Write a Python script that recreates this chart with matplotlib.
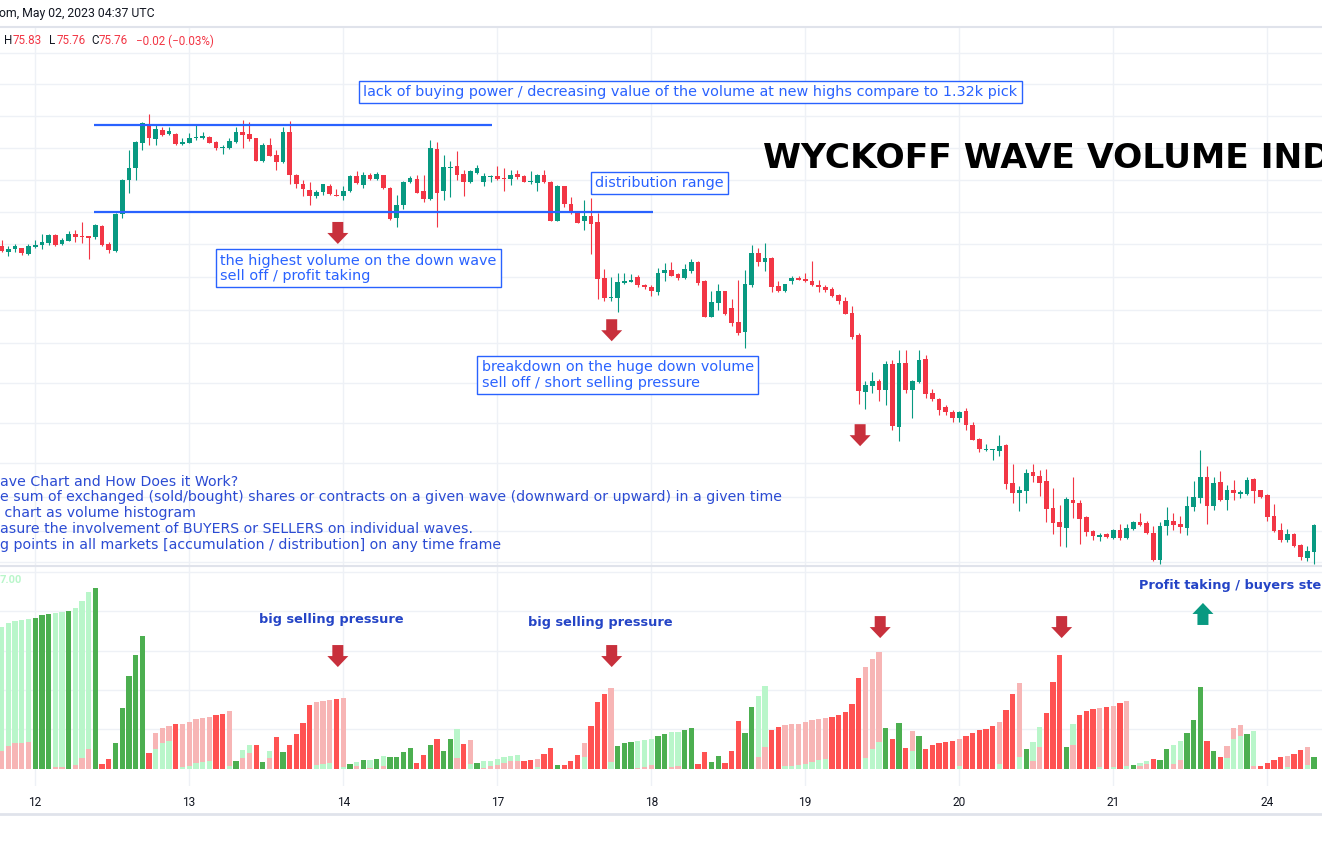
import numpy as np
import matplotlib
matplotlib.use("Agg")
import matplotlib.pyplot as plt
from matplotlib.patches import Polygon
from matplotlib.transforms import IdentityTransform

# hourly candles (bar 0 = first visible bar)
opens = [82.16, 82.07, 82.11, 82.12, 82.03, 82.14, 82.17, 82.21, 82.33, 82.18,
         82.24, 82.34, 82.32, 82.31, 82.29, 82.47, 82.19, 82.08, 82.66, 83.18,
         83.38, 83.77, 84.06, 83.83, 83.97, 83.91, 83.91, 83.75, 83.77, 83.84,
         83.85, 83.86, 83.78, 83.68, 83.68, 83.78, 83.94, 83.90, 83.84, 83.49,
         83.73, 83.58, 83.47, 83.93, 83.27, 83.13, 83.03, 82.94, 83.00, 83.09,
         82.96, 82.94, 83.01, 83.25, 83.11, 83.27, 83.20, 83.26, 83.07, 82.59,
         82.79, 83.15, 83.21, 83.02, 82.89, 83.67, 83.01, 83.38, 83.41, 83.28,
         83.16, 83.30, 83.16, 83.24, 83.25, 83.22, 83.20, 83.28, 83.25, 83.16,
         83.14, 83.27, 83.16, 82.55, 83.09, 82.81, 82.69, 82.55, 82.63, 82.53,
         81.65, 81.35, 81.35, 81.58, 81.60, 81.67, 81.54, 81.52, 81.44, 81.74,
         81.78, 81.72, 81.65, 81.77, 81.91, 81.61, 81.05, 81.27, 81.45, 81.18,
         80.97, 80.82, 81.54, 82.04, 81.90, 81.97, 81.53, 81.45, 81.61, 81.66,
         81.64, 81.61, 81.55, 81.52, 81.48, 81.39, 81.30, 81.11, 80.77, 79.88,
         79.97, 80.05, 79.91, 80.31, 79.33, 80.33, 79.91, 80.03, 80.39, 79.86,
         79.77, 79.64, 79.56, 79.47, 79.58, 79.36, 79.14, 78.97, 78.97, 78.95,
         79.05, 78.45, 78.30, 78.33, 78.63, 78.56, 78.48, 78.06, 77.84, 77.75,
         78.19, 78.14, 77.92, 77.70, 77.61, 77.66, 77.59, 77.72, 77.59, 77.73,
         77.84, 77.83, 77.67, 77.25, 77.78, 77.86, 77.81, 77.75, 78.08, 78.22,
         78.55, 78.09, 78.47, 78.19, 78.34, 78.28, 78.28, 78.52, 78.34, 78.27,
         77.94, 77.72, 77.56, 77.66, 77.48, 77.28, 77.38]
highs = [82.25, 82.15, 82.19, 82.13, 82.19, 82.25, 82.34, 82.34, 82.34, 82.28,
         82.39, 82.41, 82.53, 82.32, 82.50, 82.48, 82.22, 82.67, 83.20, 83.66,
         83.79, 84.10, 84.22, 84.06, 84.02, 84.02, 83.92, 83.84, 83.92, 84.05,
         83.94, 83.88, 83.79, 83.73, 83.85, 84.02, 84.13, 84.09, 83.85, 83.77,
         83.85, 83.66, 84.02, 84.11, 83.28, 83.19, 83.16, 83.03, 83.13, 83.13,
         83.04, 83.09, 83.27, 83.33, 83.32, 83.29, 83.32, 83.27, 83.08, 82.95,
         83.17, 83.25, 83.27, 83.27, 83.81, 83.78, 83.58, 83.48, 83.64, 83.34,
         83.35, 83.42, 83.29, 83.27, 83.41, 83.37, 83.35, 83.34, 83.26, 83.33,
         83.28, 83.34, 83.17, 83.11, 83.10, 82.92, 82.70, 82.88, 82.90, 82.67,
         81.79, 81.67, 81.73, 81.74, 81.72, 81.70, 81.56, 81.55, 81.81, 81.89,
         81.90, 81.74, 81.87, 81.95, 81.92, 81.63, 81.45, 81.57, 81.46, 81.33,
         81.63, 81.78, 82.17, 82.12, 82.20, 81.98, 81.61, 81.57, 81.68, 81.69,
         81.73, 81.92, 81.63, 81.55, 81.52, 81.40, 81.36, 81.22, 80.80, 80.05,
         80.19, 80.08, 80.36, 80.38, 80.53, 80.53, 80.06, 80.53, 80.45, 79.92,
         79.78, 79.67, 79.59, 79.58, 79.63, 79.41, 79.16, 79.06, 78.99, 79.20,
         79.06, 78.75, 78.41, 78.67, 78.75, 78.66, 78.67, 78.38, 78.11, 78.23,
         78.55, 78.19, 77.93, 77.72, 77.67, 77.67, 77.73, 77.81, 77.81, 77.86,
         77.98, 77.86, 77.78, 77.84, 78.08, 77.98, 77.94, 78.25, 78.48, 78.97,
         78.72, 78.55, 78.64, 78.42, 78.50, 78.34, 78.55, 78.53, 78.35, 78.28,
         78.13, 77.83, 77.73, 77.67, 77.50, 77.47, 77.81]
lows = [82.07, 82.00, 82.06, 82.02, 82.02, 82.12, 82.11, 82.17, 82.16, 82.17,
        82.23, 82.22, 82.21, 81.95, 82.26, 82.15, 82.04, 82.07, 82.60, 82.99,
        83.19, 83.66, 83.73, 83.73, 83.88, 83.89, 83.74, 83.73, 83.76, 83.81,
        83.83, 83.76, 83.65, 83.60, 83.67, 83.76, 83.68, 83.79, 83.48, 83.47,
        83.56, 83.34, 83.45, 83.13, 83.07, 82.93, 82.80, 82.90, 82.95, 82.95,
        82.93, 82.88, 83.00, 83.13, 83.07, 83.19, 83.19, 83.04, 82.57, 82.46,
        82.73, 83.14, 82.98, 82.85, 82.88, 82.46, 82.88, 82.92, 83.19, 82.93,
        83.14, 83.28, 83.09, 83.16, 83.19, 83.01, 83.11, 83.20, 83.15, 83.13,
        83.02, 83.14, 82.54, 82.54, 82.77, 82.66, 82.51, 82.41, 82.03, 81.33,
        81.29, 81.29, 81.13, 81.57, 81.59, 81.52, 81.49, 81.38, 81.39, 81.61,
        81.68, 81.63, 81.64, 81.73, 81.55, 81.04, 81.04, 81.16, 81.08, 80.90,
        80.77, 80.56, 81.52, 81.84, 81.76, 81.44, 81.43, 81.44, 81.57, 81.62,
        81.60, 81.53, 81.43, 81.44, 81.36, 81.25, 81.09, 80.70, 79.69, 79.61,
        79.86, 79.73, 79.67, 79.28, 79.11, 79.86, 79.47, 80.01, 79.78, 79.73,
        79.52, 79.52, 79.41, 79.40, 79.28, 79.12, 78.93, 78.96, 78.81, 78.88,
        78.36, 78.14, 78.02, 78.14, 78.47, 78.25, 77.84, 77.65, 77.47, 77.45,
        77.91, 77.50, 77.63, 77.56, 77.55, 77.60, 77.58, 77.56, 77.58, 77.72,
        77.78, 77.66, 77.24, 77.19, 77.64, 77.72, 77.67, 77.64, 78.02, 78.14,
        77.81, 78.03, 78.17, 78.03, 78.19, 78.22, 78.27, 78.14, 78.22, 77.86,
        77.69, 77.53, 77.53, 77.45, 77.25, 77.23, 77.19]
closes = [82.08, 82.11, 82.15, 82.04, 82.16, 82.17, 82.22, 82.33, 82.17, 82.25,
          82.34, 82.30, 82.29, 82.28, 82.48, 82.17, 82.09, 82.66, 83.19, 83.38,
          83.78, 84.08, 83.85, 83.98, 83.89, 83.95, 83.75, 83.78, 83.84, 83.86,
          83.88, 83.77, 83.68, 83.69, 83.80, 83.94, 83.89, 83.83, 83.49, 83.73,
          83.57, 83.47, 83.93, 83.26, 83.12, 83.04, 82.94, 83.00, 83.12, 82.97,
          82.94, 83.02, 83.25, 83.14, 83.27, 83.20, 83.28, 83.07, 82.58, 82.80,
          83.15, 83.22, 82.99, 82.89, 83.68, 82.99, 83.39, 83.39, 83.27, 83.16,
          83.33, 83.37, 83.25, 83.25, 83.21, 83.20, 83.27, 83.23, 83.16, 83.17,
          83.27, 83.15, 82.55, 83.09, 82.82, 82.67, 82.52, 82.63, 82.50, 81.64,
          81.35, 81.36, 81.59, 81.61, 81.63, 81.54, 81.51, 81.45, 81.73, 81.78,
          81.69, 81.65, 81.79, 81.91, 81.58, 81.05, 81.28, 81.45, 81.09, 80.96,
          80.80, 81.56, 82.04, 81.91, 81.97, 81.52, 81.45, 81.56, 81.66, 81.63,
          81.61, 81.54, 81.51, 81.47, 81.38, 81.30, 81.10, 80.73, 79.89, 79.98,
          80.05, 79.91, 80.31, 79.35, 80.33, 79.91, 80.05, 80.38, 79.84, 79.77,
          79.59, 79.56, 79.47, 79.56, 79.36, 79.13, 78.98, 78.98, 78.98, 79.03,
          78.44, 78.30, 78.34, 78.61, 78.56, 78.45, 78.05, 77.83, 77.77, 78.20,
          78.14, 77.89, 77.69, 77.63, 77.64, 77.61, 77.72, 77.59, 77.75, 77.84,
          77.80, 77.67, 77.25, 77.78, 77.88, 77.80, 77.77, 78.09, 78.23, 78.55,
          78.09, 78.45, 78.19, 78.34, 78.30, 78.31, 78.50, 78.33, 78.23, 77.92,
          77.70, 77.56, 77.66, 77.47, 77.30, 77.39, 77.80]

day_labels = ["12", "13", "14", "17", "18", "19", "20", "21", "24"]
day_starts = [5, 28, 51, 74, 97, 120, 143, 166, 189]

# wave volume histogram: cumulative wave volume, colour code per bar,
# and the single bar volume drawn over it
wave_vol = [1037, 1071, 1086, 1091, 1098, 1105, 1130, 1137, 1144, 1149,
            1159, 1181, 1230, 1296, 1322, 37, 73, 190, 449, 681,
            834, 974, 120, 264, 300, 317, 329, 329, 344, 366,
            376, 383, 395, 403, 425, 59, 139, 176, 176, 51,
            132, 234, 124, 176, 256, 337, 468, 490, 498, 505,
            512, 520, 37, 51, 66, 66, 73, 95, 88, 88,
            124, 154, 44, 102, 176, 220, 132, 220, 293, 183,
            212, 44, 59, 59, 73, 88, 95, 102, 59, 66,
            73, 110, 154, 29, 29, 59, 102, 190, 315, 490,
            549, 593, 168, 190, 198, 205, 212, 220, 242, 256,
            271, 271, 285, 300, 37, 124, 51, 95, 44, 132,
            351, 264, 454, 534, 608, 285, 307, 322, 329, 329,
            344, 359, 366, 373, 381, 395, 417, 476, 666, 747,
            805, 856, 300, 220, 337, 154, 278, 242, 146, 176,
            190, 198, 205, 220, 242, 264, 285, 293, 315, 344,
            432, 549, 630, 146, 198, 307, 410, 637, 834, 161,
            329, 395, 425, 439, 447, 454, 461, 483, 498, 29,
            44, 59, 73, 66, 146, 176, 205, 264, 359, 600,
            205, 132, 88, 168, 300, 322, 256, 278, 22, 44,
            66, 88, 95, 110, 139, 161, 88]
wave_kind = ("gggggGGGgg" "GgggGRRGGG" "GGRrrrRrrr" "rrRRrGggRG" "gRGRRRRrrr"
             "RrGgGgGgGG" "GGRRGRGGgR" "rGggggggRR" "rRRGRRRrRR" "RrGGGgggGG"
             "ggGGRRGGRR" "RGGggRRrrr" "rrrrRRRRRr" "rrGRGRrGRR" "RRRrRRRRRr"
             "RRrGggRRRG" "gRRRrRrRrG" "ggRGGggGGG" "RGRrrrGgRR" "RRrRRrG")
bar_vol = [132, 171, 190, 190, 198, 0, 0, 0, 15, 15,
           0, 29, 81, 146, 0, 0, 0, 0, 0, 0,
           0, 0, 0, 146, 190, 205, 0, 12, 22, 44,
           51, 59, 0, 0, 22, 0, 81, 117, 0, 0,
           81, 0, 0, 0, 0, 0, 0, 29, 37, 44,
           0, 15, 0, 22, 0, 7, 0, 22, 0, 0,
           0, 0, 0, 0, 0, 0, 0, 0, 81, 0,
           37, 0, 7, 22, 29, 44, 59, 59, 0, 0,
           15, 0, 0, 0, 0, 0, 0, 88, 0, 0,
           0, 51, 0, 0, 0, 7, 15, 29, 0, 0,
           15, 22, 0, 0, 0, 0, 0, 0, 0, 0,
           0, 0, 0, 88, 161, 0, 0, 22, 22, 29,
           37, 51, 66, 73, 0, 0, 0, 0, 0, 81,
           146, 198, 0, 0, 0, 0, 132, 0, 0, 0,
           0, 0, 0, 22, 0, 0, 0, 0, 0, 37,
           0, 0, 88, 0, 59, 161, 0, 0, 0, 0,
           176, 0, 0, 0, 15, 0, 15, 0, 22, 0,
           22, 37, 0, 0, 0, 37, 66, 0, 0, 0,
           0, 0, 0, 81, 220, 242, 0, 22, 0, 0,
           0, 0, 15, 0, 0, 29, 0]

price_grid = [85.17, 84.68, 84.18, 83.69, 83.19, 82.69, 82.19, 81.67,
              81.16, 80.64, 80.02, 79.39, 78.77, 78.23, 77.70, 77.22]
vol_grid = [290, 578, 866, 1155, 1444]

UP = "#089981"
DOWN = "#f23645"
GRID = "#eef1f6"
BORDER = "#e0e3eb"
BOX_BLUE = "#2962ff"
TEXT_BLUE = "#2b4bd3"
LABEL_BLUE = "#2444c6"
ARROW_RED = "#c8303c"
kind_colors = {"G": "#4caf50", "g": "#b9f6ca", "R": "#ff5252", "r": "#f7b5b5"}
front_colors = {"G": "#f7b5b5", "R": "#b9f6ca", "g": "#f7b5b5", "r": "#b9f6ca"}

W, H = 1322, 850
fig = plt.figure(figsize=(W / 100, H / 100), dpi=100)
fig.patch.set_facecolor("white")

def fx(px):
    return px / W

def fy(py):
    return 1 - py / H

# main pane y=27..565 px, volume pane y=566..786 px
ax = fig.add_axes([0, fy(565), 1, fy(27) - fy(565)])
axv = fig.add_axes([0, fy(786), 1, fy(566) - fy(786)])

n = len(opens)
x = np.arange(n)
o = np.array(opens)
h = np.array(highs)
l = np.array(lows)
c = np.array(closes)
up = c >= o
cols = np.where(up, UP, DOWN)

xlim = (-0.254, 197.18)

for a in (ax, axv):
    a.set_xlim(*xlim)
    for s in a.spines.values():
        s.set_visible(False)
    a.set_yticks([])
    for d in day_starts:
        a.axvline(d, color=GRID, lw=1, zorder=0)

ax.set_xticks([])
ax.set_ylim(77.172, 85.578)
for g in price_grid:
    ax.axhline(g, color=GRID, lw=1, zorder=0)

# candles
ax.vlines(x, l, h, colors=cols, lw=0.8, zorder=2)
body = np.maximum(np.abs(c - o), 0.016)
ax.bar(x, body, bottom=np.minimum(o, c), width=0.70, color=cols, lw=0, zorder=3)

# range lines
ax.hlines(84.04, 13.8, 73.2, color=BOX_BLUE, lw=1.6, zorder=4)
ax.hlines(82.69, 13.8, 97.3, color=BOX_BLUE, lw=1.6, zorder=4)

# wave volume
axv.set_ylim(-124, 1486)
for g in vol_grid:
    axv.axhline(g, color=GRID, lw=1, zorder=0)
back_cols = [kind_colors[k] for k in wave_kind]
fr_cols = [front_colors[k] for k in wave_kind]
axv.bar(x, wave_vol, width=0.79, color=back_cols, lw=0, zorder=2)
axv.bar(x, bar_vol, width=0.79, color=fr_cols, lw=0, zorder=3)
axv.set_xticks(day_starts, day_labels)
axv.tick_params(axis="x", length=0, pad=7, labelsize=8.6, labelcolor="#131722")
for t in axv.get_xticklabels():
    t.set_fontfamily("Roboto")

# annotation boxes
box = dict(boxstyle="square,pad=0.3", fc="white", ec=BOX_BLUE, lw=1)
ax.text(54.0, 84.56, "lack of buying power / decreasing value of the volume at new highs compare to 1.32k pick",
        color=BOX_BLUE, fontsize=10.4, va="center", ha="left", bbox=box, zorder=6)
ax.text(88.6, 83.14, "distribution range", color=BOX_BLUE, fontsize=10.4,
        va="center", ha="left", bbox=box, zorder=6)
ax.text(32.6, 81.81, "the highest volume on the down wave\nsell off / profit taking",
        color=BOX_BLUE, fontsize=10.4, va="center", ha="left", bbox=box,
        linespacing=1.1, zorder=6)
ax.text(71.7, 80.14, "breakdown on the huge down volume\nsell off / short selling pressure",
        color=BOX_BLUE, fontsize=10.4, va="center", ha="left", bbox=box,
        linespacing=1.1, zorder=6)

ax.text(113.7, 83.375, "WYCKOFF WAVE VOLUME INDICATOR", fontsize=24.8, fontweight="bold",
        color="black", va="baseline", ha="left", clip_on=False, zorder=6)

info_lines = ["ave Chart and How Does it Work?",
              "e sum of exchanged (sold/bought) shares or contracts on a given wave (downward or upward) in a given time",
              " chart as volume histogram",
              "asure the involvement of BUYERS or SELLERS on individual waves.",
              "g points in all markets [accumulation / distribution] on any time frame"]
for k, line in enumerate(info_lines):
    fig.text(fx(0), fy(481.5 + 15.9 * k), line, color=TEXT_BLUE, fontsize=10.2,
             va="center", ha="left")

axv.text(38.4, 1091, "big selling pressure", color=LABEL_BLUE, fontsize=9.3,
         fontweight="bold", va="center", ha="left", zorder=6)
axv.text(78.6, 1069, "big selling pressure", color=LABEL_BLUE, fontsize=9.3,
         fontweight="bold", va="center", ha="left", zorder=6)
axv.text(169.8, 1340, "Profit taking / buyers step in", color=LABEL_BLUE, fontsize=9.3,
         fontweight="bold", va="center", ha="left", clip_on=False, zorder=6)


def arrow(a, xi, val, down=True, color=ARROW_RED):
    cx, cy = a.transData.transform((xi, val))
    s = 1 if down else -1
    verts = [(cx - 5.5, cy + 11 * s), (cx + 5.5, cy + 11 * s), (cx + 5.5, cy),
             (cx + 10.5, cy), (cx, cy - 11 * s), (cx - 10.5, cy), (cx - 5.5, cy)]
    fig.add_artist(Polygon(verts, closed=True, fc=color, ec="none",
                           transform=IdentityTransform(), zorder=7))


arrow(ax, 50.2, 82.36)
arrow(ax, 91.1, 80.84)
arrow(ax, 128.2, 79.20)
arrow(axv, 50.2, 827)
arrow(axv, 91.1, 827)
arrow(axv, 131.2, 1039)
arrow(axv, 158.3, 1039)
arrow(axv, 179.4, 1135, down=False, color=UP)

# header
fig.text(fx(-1), fy(14), "om, May 02, 2023 04:37 UTC", fontsize=8.8, family="Roboto",
         color="#131722", va="center", ha="left")
legend_parts = [(4, "H", "#131722"), (12.3, "75.83", DOWN), (49, "L", "#131722"),
                (56.2, "75.76", DOWN), (91.3, "C", "#131722"), (99, "75.76", DOWN),
                (136, "\u22120.02 (\u22120.03%)", DOWN)]
for px, s, col in legend_parts:
    fig.text(fx(px), fy(41), s, fontsize=8.4, family="Roboto", color=col,
             va="center", ha="left")
fig.text(fx(0), fy(580), "7.00", fontsize=8, fontweight="bold", family="Roboto",
         color="#b9f6ca", va="center", ha="left")

fig.add_artist(plt.Line2D([0, 1], [fy(27), fy(27)], color=BORDER, lw=1.5))
fig.add_artist(plt.Line2D([0, 1], [fy(565.5), fy(565.5)], color=BORDER, lw=1.5))
fig.add_artist(plt.Line2D([0, 1], [fy(814), fy(814)], color=BORDER, lw=2))

fig.savefig("out.png", dpi=100, facecolor="white")
